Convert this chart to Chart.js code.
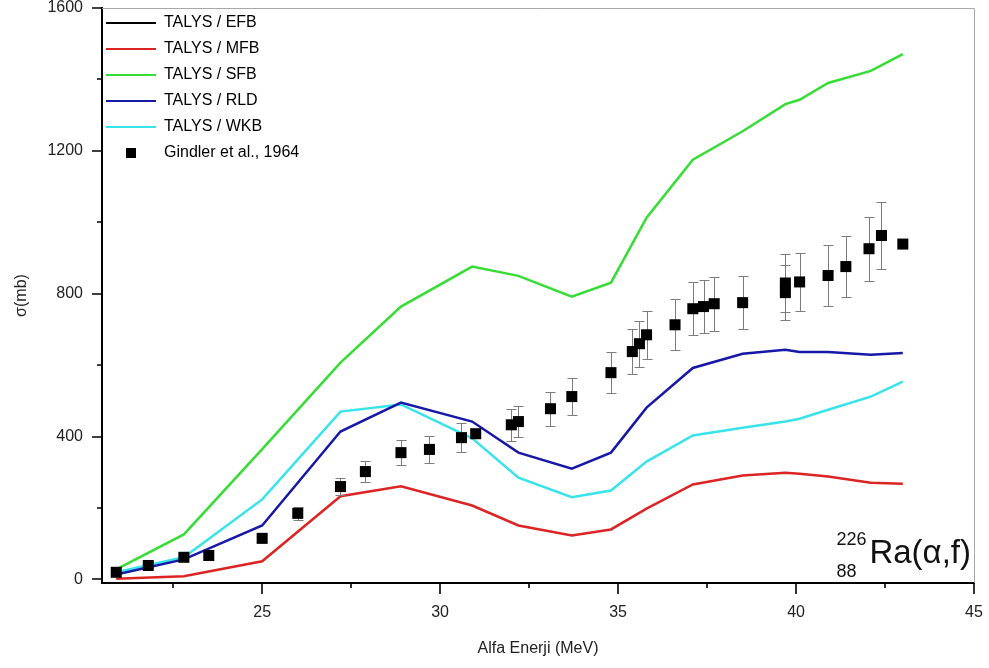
<!DOCTYPE html>
<html>
<head>
<meta charset="utf-8">
<script src="https://cdn.jsdelivr.net/npm/chart.js@4.4.1/dist/chart.umd.min.js"></script>
<style>
html,body{margin:0;padding:0;background:#fff;}
#wrap{width:989px;height:668px;}
</style>
</head>
<body>
<div id="wrap"><canvas id="c" width="989" height="668"></canvas></div>
<script>
// ---- data ----
const energies = [20.9, 22.8, 25.0, 27.2, 28.9, 30.9, 32.2, 33.7, 34.8, 35.8, 37.1, 38.5, 39.7, 40.1, 40.9, 42.1, 43.0];
const efbValues = []; // EFB curve is not visible in the reference (listed in legend only)
const mfbValues = [2, 9, 51, 233, 261, 207, 151, 123, 140, 198, 266, 291, 299, 296, 288, 271, 268];
const sfbValues = [28, 126, 365, 607, 764, 876, 850, 792, 831, 1013, 1175, 1255, 1331, 1343, 1390, 1424, 1471];
const rldValues = [14, 56, 151, 414, 495, 442, 355, 310, 355, 481, 592, 632, 643, 637, 637, 629, 634];
const wkbValues = [20, 62, 224, 470, 490, 395, 285, 230, 249, 330, 403, 425, 442, 450, 475, 512, 554];

const expEnergy = [20.9, 21.8, 22.8, 23.5, 25.0, 26.0, 27.2, 27.9, 28.9, 29.7, 30.6, 31.0, 32.0, 32.2, 33.1, 33.7, 34.8, 35.4, 35.6, 35.8, 36.6, 37.1, 37.4, 37.7, 38.5, 39.7, 39.7, 40.1, 40.9, 41.4, 42.05, 42.4, 43.0];
const expSigma  = [20, 39, 62, 67, 115, 185, 260, 302, 355, 364, 397, 408, 433, 442, 478, 512, 579, 638, 660, 685, 713, 758, 764, 772, 775, 830, 803, 833, 851, 876, 926, 963, 939];
const expError  = [0, 0, 0, 0, 0, 19, 23, 30, 35, 37, 40, 0, 44, 44, 47, 52, 57, 62, 65, 67, 71, 74, 75, 75, 75, 82, 77, 81, 84, 85, 90, 94, 0];

const xTickValues = [22.5, 25, 27.5, 30, 32.5, 35, 37.5, 40, 42.5, 45];
const xLabelValues = [25, 30, 35, 40, 45];
const yTickValues = [0, 200, 400, 600, 800, 1000, 1200, 1400, 1600];
const yLabelValues = [0, 400, 800, 1200, 1600];

const seriesNames = ['TALYS / EFB', 'TALYS / MFB', 'TALYS / SFB', 'TALYS / RLD', 'TALYS / WKB', 'Gindler et al., 1964'];

// ---- helpers ----
const toXY = (xs, ys) => ys.map((v, i) => ({x: xs[i], y: v}));
const FONT = "'Liberation Sans', Arial, Helvetica, sans-serif";
Chart.defaults.font.family = FONT;
Chart.defaults.color = '#222';

function lineDs(label, vals, color, order) {
  return {
    label, data: toXY(energies, vals), showLine: true, borderColor: color, backgroundColor: color,
    borderWidth: 2.5, pointRadius: 0, pointHoverRadius: 0, tension: 0, order, legendStyle: 'line'
  };
}

const squareIcon = (() => {
  const c = document.createElement('canvas');
  c.width = 10; c.height = 10;
  const g = c.getContext('2d');
  g.fillStyle = '#000'; g.fillRect(0, 0, 10, 10);
  return c;
})();

const errorBars = {
  id: 'errorBars',
  beforeDatasetDraw(chart, args) {
    const ds = chart.data.datasets[args.index];
    if (!ds.errors) return;
    const {ctx} = chart, xs = chart.scales.x, ys = chart.scales.y;
    ctx.save();
    ctx.strokeStyle = '#7c7c7c';
    ctx.lineWidth = 1;
    ds.data.forEach((p, i) => {
      const e = ds.errors[i];
      if (!e) return;
      const px = Math.round(xs.getPixelForValue(p.x)) + 0.5;
      const y1 = Math.round(ys.getPixelForValue(p.y - e)) + 0.5;
      const y2 = Math.round(ys.getPixelForValue(p.y + e)) + 0.5;
      ctx.beginPath();
      ctx.moveTo(px, y1); ctx.lineTo(px, y2);
      ctx.moveTo(px - 5, y1); ctx.lineTo(px + 5, y1);
      ctx.moveTo(px - 5, y2); ctx.lineTo(px + 5, y2);
      ctx.stroke();
    });
    ctx.restore();
  }
};

const frameAndTicks = {
  id: 'frameAndTicks',
  beforeDatasetsDraw(chart) {
    const {ctx, chartArea: a} = chart;
    ctx.save();
    ctx.strokeStyle = '#a8a8a8';
    ctx.lineWidth = 1;
    ctx.beginPath();
    ctx.moveTo(a.left, a.top + 0.5);
    ctx.lineTo(a.right + 0.5, a.top + 0.5);
    ctx.lineTo(a.right + 0.5, a.bottom);
    ctx.stroke();
    ctx.restore();
  },
  afterDraw(chart) {
    const {ctx, chartArea: a, scales: {x, y}} = chart;
    ctx.save();
    ctx.strokeStyle = '#000';
    ctx.lineWidth = 1.6;
    ctx.beginPath();
    yTickValues.forEach(v => {
      const py = Math.round(y.getPixelForValue(v));
      const len = yLabelValues.includes(v) ? 10 : 5;
      ctx.moveTo(a.left - len, py); ctx.lineTo(a.left, py);
    });
    xTickValues.forEach(v => {
      const px = Math.round(x.getPixelForValue(v));
      const len = xLabelValues.includes(v) ? 11 : 5;
      ctx.moveTo(px, a.bottom); ctx.lineTo(px, a.bottom + len);
    });
    ctx.stroke();
    // reaction annotation
    ctx.fillStyle = '#111';
    ctx.textBaseline = 'alphabetic';
    ctx.font = '33px ' + FONT;
    const main = 'Ra(\u03b1,f)';
    const mw = ctx.measureText(main).width;
    const mx = a.right - 3 - mw;
    const base = a.bottom - 20;
    ctx.fillText(main, mx, base);
    ctx.font = '18px ' + FONT;
    const sw = ctx.measureText('226').width;
    const sx = mx - 3 - sw;
    ctx.fillText('226', sx, base - 18);
    ctx.fillText('88', sx, base + 14);
    ctx.restore();
  }
};

const legendShift = {
  id: 'legendShift',
  afterLayout(chart) {
    const l = chart.legend, a = chart.chartArea;
    if (!l) return;
    l.left = a.left - 6;
    l.top = a.top - 3;
  }
};

const zeroPad = (s) => { s.paddingTop = 0; s.paddingBottom = 0; s.paddingLeft = 0; s.paddingRight = 0; };

const datasets = [
  lineDs(seriesNames[0], efbValues, '#000000', 1),
  lineDs(seriesNames[1], mfbValues, '#dd2424', 1),
  lineDs(seriesNames[2], sfbValues, '#35dd35', 1),
  lineDs(seriesNames[3], rldValues, '#1818a8', 1),
  lineDs(seriesNames[4], wkbValues, '#38e4ea', 2),
  {
    label: seriesNames[5], data: toXY(expEnergy, expSigma), errors: expError, showLine: false,
    pointStyle: 'rect', pointRadius: 7.8, pointHoverRadius: 7.8, backgroundColor: '#000', borderColor: '#000',
    borderWidth: 0, order: 0, legendStyle: squareIcon
  }
];

new Chart(document.getElementById('c'), {
  type: 'scatter',
  data: {datasets},
  plugins: [errorBars, frameAndTicks, legendShift],
  options: {
    responsive: false,
    animation: false,
    devicePixelRatio: 1,
    layout: {autoPadding: false, padding: {left: 0, top: 8, right: 15, bottom: 0}},
    plugins: {
      tooltip: {enabled: false},
      legend: {
        position: 'chartArea',
        align: 'start',
        labels: {
          usePointStyle: true,
          pointStyleWidth: 50,
          padding: 10,
          color: '#1a1a1a',
          font: {size: 16},
          generateLabels: (chart) => chart.data.datasets.map((ds, i) => ({
            text: ds.label,
            fillStyle: ds.backgroundColor,
            strokeStyle: ds.borderColor,
            lineWidth: 2,
            pointStyle: ds.legendStyle,
            hidden: false,
            datasetIndex: i
          }))
        }
      }
    },
    scales: {
      x: {
        type: 'linear', position: 'bottom', min: 20.5, max: 45,
        afterBuildTicks: (s) => { s.ticks = xTickValues.map(v => ({value: v})); },
        afterFit: (s) => { s.height = 85; zeroPad(s); },
        grid: {display: false, drawTicks: false},
        border: {display: true, color: '#000', width: 2},
        ticks: {
          autoSkip: false, maxRotation: 0, padding: 20, color: '#222', font: {size: 16},
          callback: (v) => xLabelValues.includes(v) ? String(v) : ''
        },
        title: {display: true, text: 'Alfa Enerji (MeV)', color: '#222', font: {size: 16}, padding: {top: 0, bottom: 10}}
      },
      y: {
        type: 'linear', position: 'left', min: -10, max: 1600,
        afterBuildTicks: (s) => { s.ticks = yTickValues.map(v => ({value: v})); },
        afterFit: (s) => { s.width = 102; zeroPad(s); },
        grid: {display: false, drawTicks: false},
        border: {display: true, color: '#000', width: 2},
        ticks: {
          autoSkip: false, padding: 19, color: '#222', font: {size: 16},
          callback: (v) => yLabelValues.includes(v) ? String(v) : ''
        },
        title: {display: true, text: '\u03c3(mb)', color: '#222', font: {size: 16}, padding: {top: 12, bottom: 0}}
      }
    }
  }
});
</script>
</body>
</html>
